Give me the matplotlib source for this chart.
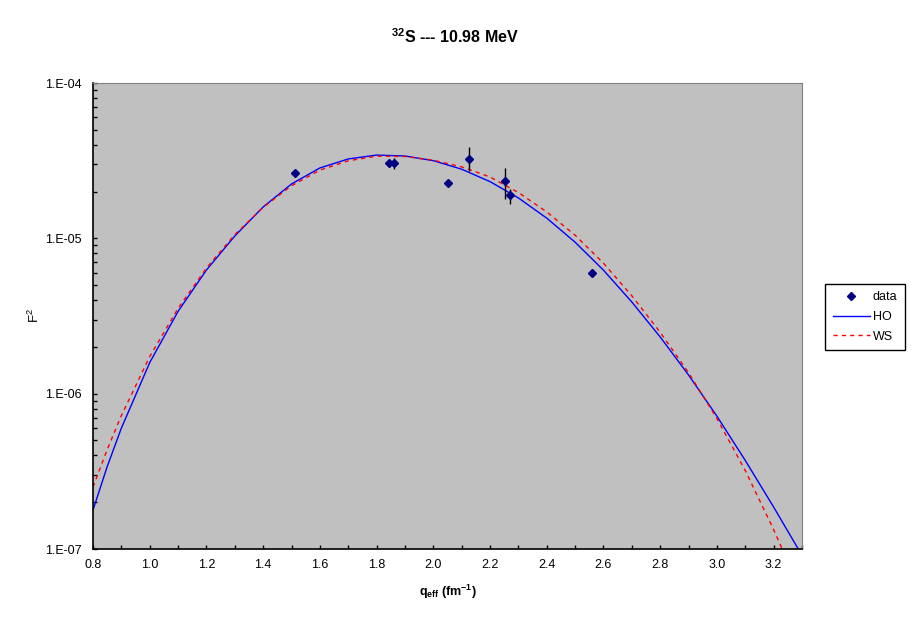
import matplotlib
matplotlib.use("Agg")
import matplotlib.pyplot as plt
import numpy as np
from matplotlib.ticker import FixedLocator, LogLocator, NullFormatter, FuncFormatter, MultipleLocator

plt.rcParams['font.family'] = ['Liberation Sans', 'DejaVu Sans']
plt.rcParams['mathtext.fontset'] = 'custom'
plt.rcParams['mathtext.rm'] = 'Liberation Sans'
plt.rcParams['mathtext.bf'] = 'Liberation Sans:bold'
plt.rcParams['mathtext.it'] = 'Liberation Sans'

# measured data
q_data = [1.513, 1.845, 1.862, 2.053, 2.125, 2.252, 2.272, 2.558]
f2_data = [2.63e-5, 3.05e-5, 3.05e-5, 2.26e-5, 3.23e-5, 2.34e-5, 1.89e-5, 5.96e-6]
f2_lo = [0.0, 0.0, 2.79e-5, 0.0, 2.72e-5, 1.79e-5, 1.66e-5, 5.61e-6]
f2_hi = [0.0, 0.0, 3.28e-5, 0.0, 3.89e-5, 2.85e-5, 2.07e-5, 6.31e-6]

# HO curve (log10 F^2)
q_ho = [0.80, 0.85, 0.90, 1.00, 1.10, 1.20, 1.30, 1.40, 1.50, 1.60, 1.70, 1.80,
        1.90, 2.00, 2.10, 2.20, 2.30, 2.40, 2.50, 2.60, 2.70, 2.80, 2.90, 3.00, 3.10,
        3.20, 3.29]
log_ho = [-6.749, -6.470, -6.222, -5.800, -5.470, -5.204, -4.985, -4.798, -4.650, -4.547,
          -4.489, -4.464, -4.470, -4.500, -4.555, -4.635, -4.740, -4.870, -5.025,
          -5.205, -5.410, -5.635, -5.880, -6.145, -6.430, -6.730, -7.010]

# WS curve (log10 F^2)
q_ws = [0.80, 0.85, 0.90, 1.00, 1.10, 1.20, 1.30, 1.40, 1.50, 1.60, 1.70, 1.80,
        1.90, 2.00, 2.10, 2.20, 2.30, 2.40, 2.50, 2.60, 2.70, 2.80, 2.90, 3.00, 3.10,
        3.20, 3.23]
log_ws = [-6.601, -6.360, -6.141, -5.761, -5.451, -5.191, -4.976, -4.801, -4.661, -4.561,
          -4.501, -4.471, -4.473, -4.497, -4.540, -4.605, -4.705, -4.830, -4.980,
          -5.160, -5.370, -5.605, -5.865, -6.160, -6.495, -6.875, -7.000]

f2_ho = [10 ** v for v in log_ho]
f2_ws = [10 ** v for v in log_ws]

fig = plt.figure(figsize=(9.11, 6.23), dpi=100)
ax = fig.add_axes([93 / 911, 74 / 623, 709 / 911, 466 / 623])
ax.set_facecolor('#c0c0c0')

ax.plot(q_ho, f2_ho, color='#0000ff', lw=1.0, label='HO')
ax.plot(q_ws, f2_ws, color='#ff0000', lw=1.0, ls=(0, (3, 3)), label='WS')

yerr_lo = [d - l if l > 0 else 0 for d, l in zip(f2_data, f2_lo)]
yerr_hi = [h - d if h > 0 else 0 for d, h in zip(f2_data, f2_hi)]
ax.errorbar(q_data, f2_data, yerr=[yerr_lo, yerr_hi], fmt='none', ecolor='black',
            elinewidth=1.0, capsize=0)
ax.plot(q_data, f2_data, ls='none', marker='D', ms=4.5, color='#000080', label='data')

ax.set_yscale('log')
ax.set_xlim(0.8, 3.3)
ax.set_ylim(1e-7, 1e-4)

ax.xaxis.set_major_locator(FixedLocator([0.8, 1.0, 1.2, 1.4, 1.6, 1.8, 2.0, 2.2, 2.4, 2.6, 2.8, 3.0, 3.2]))
ax.xaxis.set_minor_locator(MultipleLocator(0.1))
ax.xaxis.set_major_formatter(FuncFormatter(lambda v, p: f"{v:.1f}"))
ax.yaxis.set_major_locator(LogLocator(base=10, numticks=10))
ax.yaxis.set_minor_locator(LogLocator(base=10, subs=np.arange(2, 10), numticks=10))
ax.yaxis.set_minor_formatter(NullFormatter())
ax.yaxis.set_major_formatter(FuncFormatter(lambda v, p: "1.E%+03d" % round(np.log10(v))))

ax.tick_params(which='both', direction='in', length=3, width=1, labelsize=9, pad=8)
ax.tick_params(axis='x', which='both', pad=7)

for s in ['top', 'right']:
    ax.spines[s].set_color('#808080')
for s in ['left', 'bottom']:
    ax.spines[s].set_color('black')
    ax.spines[s].set_linewidth(1.2)

fig.text(455 / 911, 1 - 37 / 623, r"$\mathbf{^{32}}$S --- 10.98 MeV", ha='center', va='center',
         fontsize=11.5, fontweight='bold')
ax.set_xlabel(r"q$_{\mathbf{eff}}$ (fm$^{\mathbf{-1}}$)", fontsize=9, fontweight='bold', labelpad=9)
ax.set_ylabel(r"F$^{2}$", fontsize=9.5)
ax.yaxis.set_label_coords(-0.072, 0.5)

h, l = ax.get_legend_handles_labels()
order = [2, 0, 1]
leg = fig.legend([h[i] for i in order], [l[i] for i in order], loc='center left',
                 bbox_to_anchor=(825 / 911, 1 - 317 / 623), fontsize=9, frameon=True,
                 fancybox=False, edgecolor='black', framealpha=1, handlelength=3.0,
                 borderpad=0.6, labelspacing=0.6, handletextpad=0.2, borderaxespad=0)
leg.get_frame().set_linewidth(1.0)

fig.savefig('out.png', dpi=100)
